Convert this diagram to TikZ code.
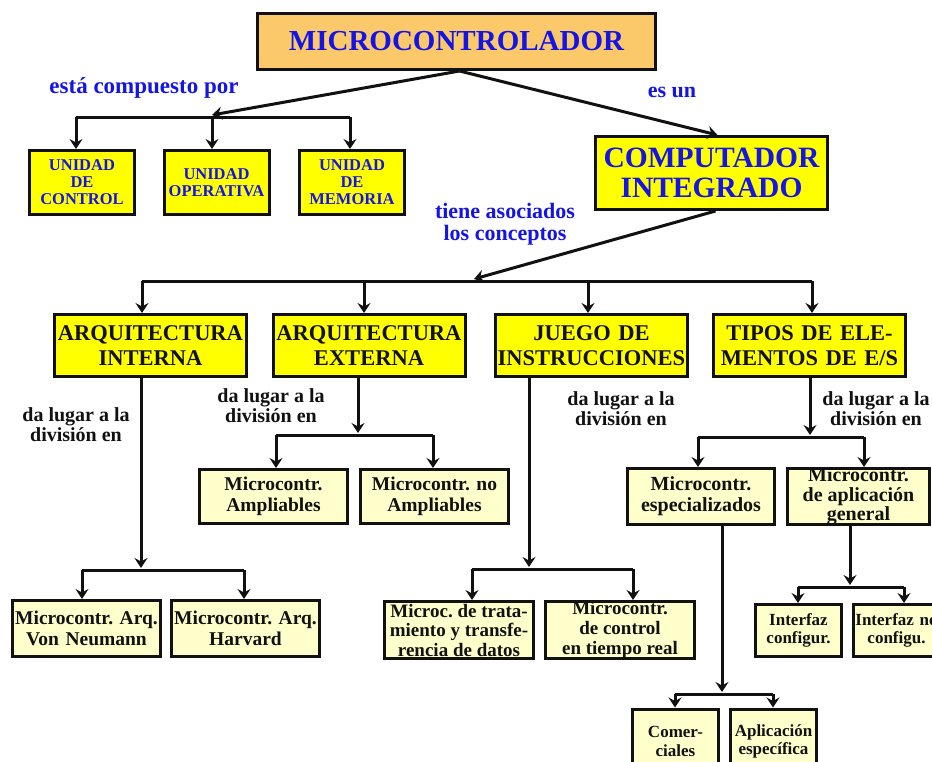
\documentclass[tikz,border=0pt]{standalone}
\usepackage{fontspec}
\setmainfont{Liberation Serif}
\usetikzlibrary{arrows.meta}
\definecolor{mcorange}{RGB}{252,201,106}
\definecolor{conceptyellow}{RGB}{255,255,0}
\definecolor{leafyellow}{RGB}{255,255,204}
\definecolor{linkblue}{RGB}{20,20,230}
\definecolor{inkblack}{RGB}{17,17,17}
\newcommand\fsz[2]{\fontsize{#1}{#2}\selectfont}
% fixed-size text block: width, height, lines
\newcommand\fixtext[3]{\parbox[c][#2][c]{#1}{\centering #3}}
\frenchspacing

\begin{document}
\begin{tikzpicture}[x=1pt,y=-1pt,
  box/.style={draw=inkblack, line width=3pt, inner sep=0pt, align=center},
  topbox/.style={box, fill=mcorange, text=linkblue},
  unitbox/.style={box, fill=conceptyellow, text=linkblue},
  conceptbox/.style={box, fill=conceptyellow, text=inkblack},
  leafbox/.style={box, fill=leafyellow, text=inkblack},
  link/.style={text=linkblue, align=center, inner sep=0pt},
  note/.style={text=inkblack, align=center, inner sep=0pt},
  conn/.style={draw=inkblack, line width=3pt},
  arr/.style={conn, -{Stealth[length=10pt,width=13pt,inset=3.5pt]}},
]
\useasboundingbox (0,0) rectangle (932,761);
\fill[white] (0,0) rectangle (932,761);
\clip (0,0) rectangle (932,761);

% ---- top level
\node[topbox, text width=398pt, minimum height=56pt, font=\bfseries\fsz{29}{30}] (mc) at (456.5,41.5) {MICROCONTROLADOR};

\node[unitbox, text width=105pt, minimum height=64pt, font=\bfseries\fsz{16.5}{17}] (uc) at (82,182.5) {UNIDAD\\DE\\CONTROL};
\node[unitbox, text width=105pt, minimum height=64pt, font=\bfseries\fsz{16.5}{17}] (uo) at (216.5,182.5) {UNIDAD\\OPERATIVA};
\node[unitbox, text width=105pt, minimum height=64pt, font=\bfseries\fsz{16.5}{17}] (um) at (352,182.5) {UNIDAD\\DE\\MEMORIA};

\node[unitbox, text width=232pt, minimum height=73pt, font=\bfseries\fsz{29.5}{30}] (ci) at (711.5,173) {COMPUTADOR\\INTEGRADO};

% ---- concepts
\node[conceptbox, text width=192pt, minimum height=62pt, font=\bfseries\fsz{22.5}{25}] (ai) at (150.5,345.5) {ARQUITECTURA\\INTERNA};
\node[conceptbox, text width=192pt, minimum height=62pt, font=\bfseries\fsz{22.5}{25}] (ae) at (369,345.5) {ARQUITECTURA\\EXTERNA};
\node[conceptbox, text width=192pt, minimum height=62pt, font=\bfseries\fsz{22.5}{25}] (ji) at (591.5,345.5) {JUEGO DE\\INSTRUCCIONES};
\node[conceptbox, text width=192pt, minimum height=62pt, font=\bfseries\fsz{22.5}{25}] (te) at (809.5,345.5) {TIPOS DE ELE-\\MENTOS DE E/S};

% ---- leaves
\node[leafbox, text width=148pt, minimum height=54pt, font=\bfseries\fsz{19.5}{21}] (amp) at (273.5,496.5) {Microcontr.\\Ampliables};
\node[leafbox, text width=148pt, minimum height=54pt, font=\bfseries\fsz{19.5}{21}] (namp) at (434.5,496.5) {Microcontr. no\\Ampliables};

\node[leafbox, text width=148pt, minimum height=56pt, font=\bfseries\fsz{19.5}{21}] (vn) at (86.5,628.5) {Microcontr. Arq.\\Von Neumann};
\node[leafbox, text width=148pt, minimum height=56pt, font=\bfseries\fsz{19.5}{21}] (hv) at (245.5,628.5) {Microcontr. Arq.\\Harvard};

\node[leafbox, font=\bfseries\fsz{19}{19.5}] (tr) at (459,630) {\fixtext{149pt}{57pt}{Microc. de trata-\\miento y transfe-\\rencia de datos}};
\node[leafbox, font=\bfseries\fsz{19}{20}] (ct) at (620,630) {\fixtext{149pt}{57pt}{Microcontr.\\de control\\en tiempo real}};

\node[leafbox, text width=147pt, minimum height=56pt, font=\bfseries\fsz{20}{21}] (esp) at (701,496.5) {Microcontr.\\especializados};
\node[leafbox, font=\bfseries\fsz{20}{19.5}] (gen) at (858.5,496.5) {\fixtext{142pt}{56pt}{Microcontr.\\de aplicación\\general}};

\node[leafbox, text width=86pt, minimum height=52pt, font=\bfseries\fsz{17}{18.5}] (ic) at (798.5,630.5) {Interfaz\\configur.};
\node[leafbox, text width=86pt, minimum height=52pt, font=\bfseries\fsz{17}{18.5}] (inc) at (896.5,630.5) {Interfaz no\\configu.};

\node[leafbox, font=\bfseries\fsz{17}{18.5}] (com) at (675.5,745) {\fixtext{86pt}{72pt}{Comer-\\ciales\\[7pt]}};
\node[leafbox, font=\bfseries\fsz{17}{18.5}] (apl) at (773.5,745) {\fixtext{86pt}{72pt}{Aplicación\\específica\\[7pt]}};

% ---- link phrases
\node[link, font=\bfseries\fsz{23}{23}] (l1) at (144,88) {está compuesto por};
\node[link, font=\bfseries\fsz{22}{22}] (l2) at (672,92) {es un};
\node[link, font=\bfseries\fsz{22}{22}] (l3) at (505,224) {tiene asociados\\los conceptos};
\node[note, font=\bfseries\fsz{20}{20}] (n1) at (76,425) {da lugar a la\\división en};
\node[note, font=\bfseries\fsz{20}{20}] (n2) at (271,406) {da lugar a la\\división en};
\node[note, font=\bfseries\fsz{20}{20}] (n3) at (621,409) {da lugar a la\\división en};
\node[note, font=\bfseries\fsz{20}{20}] (n4) at (876,409) {da lugar a la\\división en};

% ---- junction points
\coordinate (b1l) at (76,117);  \coordinate (b1m) at (212,117); \coordinate (b1r) at (350,117);
\coordinate (b1j) at (212,115);
\coordinate (b2j) at (474,279);
\coordinate (b2a) at (142,281); \coordinate (b2b) at (364,281);
\coordinate (b2c) at (588,281); \coordinate (b2d) at (812,281);
\coordinate (b3j) at (141,568); \coordinate (b3l) at (82,570);  \coordinate (b3r) at (244,570);
\coordinate (b4j) at (358,433); \coordinate (b4l) at (276,435); \coordinate (b4r) at (433,435);
\coordinate (b5j) at (529,567); \coordinate (b5l) at (472,569); \coordinate (b5r) at (633,569);
\coordinate (b6j) at (810,435); \coordinate (b6l) at (698,437); \coordinate (b6r) at (864,437);
\coordinate (b7j) at (722,692); \coordinate (b7l) at (675,694); \coordinate (b7r) at (773,694);
\coordinate (b8j) at (850,585); \coordinate (b8l) at (798,587); \coordinate (b8r) at (904,587);

% ---- connectors: top level
\draw[arr] ([xshift=3pt]mc.south) -- (b1j);
\draw[arr] ([xshift=3pt]mc.south) -- ([xshift=6pt]ci.north);
\draw[conn] (b1l) -- (b1r);
\draw[arr] (b1l) -- (b1l |- uc.north);
\draw[arr] (b1m) -- (b1m |- uo.north);
\draw[arr] (b1r) -- (b1r |- um.north);

% ---- connectors: concepts
\draw[arr] ([xshift=4pt]ci.south) -- (b2j);
\draw[conn] (b2a) -- (b2d);
\draw[arr] (b2a) -- (b2a |- ai.north);
\draw[arr] (b2b) -- (b2b |- ae.north);
\draw[arr] (b2c) -- (b2c |- ji.north);
\draw[arr] (b2d) -- (b2d |- te.north);

% ---- connectors: divisions
\draw[arr] (b3j |- ai.south) -- (b3j);
\draw[conn] (b3l) -- (b3r);
\draw[arr] (b3l) -- (b3l |- vn.north);
\draw[arr] (b3r) -- (b3r |- hv.north);

\draw[arr] (b4j |- ae.south) -- (b4j);
\draw[conn] (b4l) -- (b4r);
\draw[arr] (b4l) -- (b4l |- amp.north);
\draw[arr] (b4r) -- (b4r |- namp.north);

\draw[arr] (b5j |- ji.south) -- (b5j);
\draw[conn] (b5l) -- (b5r);
\draw[arr] (b5l) -- (b5l |- tr.north);
\draw[arr] (b5r) -- (b5r |- ct.north);

\draw[arr] (b6j |- te.south) -- (b6j);
\draw[conn] (b6l) -- (b6r);
\draw[arr] (b6l) -- (b6l |- esp.north);
\draw[arr] (b6r) -- (b6r |- gen.north);

\draw[arr] (b7j |- esp.south) -- (b7j);
\draw[conn] (b7l) -- (b7r);
\draw[arr] (b7l) -- (b7l |- com.north);
\draw[arr] (b7r) -- (b7r |- apl.north);

\draw[arr] (b8j |- gen.south) -- (b8j);
\draw[conn] (b8l) -- (b8r);
\draw[arr] (b8l) -- (b8l |- ic.north);
\draw[arr] (b8r) -- (b8r |- inc.north);
\end{tikzpicture}
\end{document}
